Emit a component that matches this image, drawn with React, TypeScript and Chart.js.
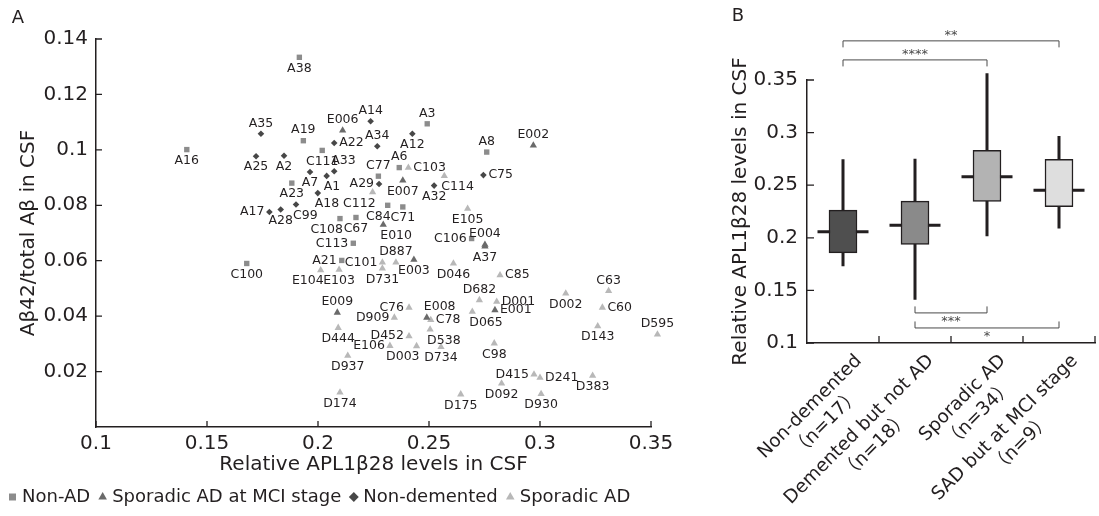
import { useEffect, useRef } from 'react';
import { Chart, registerables } from 'chart.js';
Chart.register(...registerables);

const FONT = '"DejaVu Sans", "Noto Sans CJK JP", sans-serif';
const INK = '#231f20';

// ---------- Panel A data ----------
const nonADNames = ['A38', 'A16', 'A19', 'C111', 'A23', 'A3', 'A8', 'A6', 'C77', 'C84', 'C71', 'C108', 'C67', 'C113', 'C106', 'A21', 'C100'];
const nonADX = [0.1916, 0.1409, 0.1934, 0.2019, 0.1882, 0.2492, 0.2760, 0.2366, 0.2272, 0.2314, 0.2382, 0.2099, 0.2171, 0.2159, 0.2692, 0.2107, 0.1679];
const nonADY = [0.1334, 0.1001, 0.1033, 0.0998, 0.0880, 0.1094, 0.0992, 0.0936, 0.0905, 0.0800, 0.0794, 0.0752, 0.0756, 0.0663, 0.0680, 0.0601, 0.0590];

const mciNames = ['E006', 'E002', 'E007', 'E010', 'E004', 'A37', 'E003', 'E001', 'E008', 'E009'];
const mciX = [0.2111, 0.2970, 0.2382, 0.2294, 0.2752, 0.2752, 0.2432, 0.2797, 0.2490, 0.2087];
const mciY = [0.1070, 0.1016, 0.0890, 0.0730, 0.0658, 0.0652, 0.0604, 0.0422, 0.0395, 0.0413];

const nonDemNames = ['A35', 'A14', 'A22', 'A34', 'A12', 'A25', 'A2', 'A7', 'A1', 'A33', 'A29', 'A18', 'A32', 'C75', 'A17', 'A28', 'C99'];
const nonDemX = [0.1743, 0.2237, 0.2073, 0.2267, 0.2425, 0.1721, 0.1847, 0.1964, 0.2039, 0.2073, 0.2275, 0.1999, 0.2523, 0.2745, 0.1781, 0.1832, 0.1901];
const nonDemY = [0.1058, 0.1103, 0.1025, 0.1013, 0.1058, 0.0977, 0.0979, 0.0920, 0.0906, 0.0923, 0.0877, 0.0844, 0.0871, 0.0909, 0.0776, 0.0785, 0.0803];

const sadNames = ['C103', 'C114', 'C112', 'E105', 'C101', 'D887', 'D731', 'D046', 'C85', 'D682', 'D001', 'D065', 'D002', 'C63', 'C60', 'D143', 'D595', 'C76', 'D909', 'C78', 'D538', 'D452', 'E106', 'D003', 'D734', 'C98', 'D415', 'D241', 'D383', 'D092', 'D175', 'D930', 'D174', 'D937', 'D444', 'E104', 'E103'];
const sadX = [0.2407, 0.2569, 0.2246, 0.2674, 0.2290, 0.2351, 0.2290, 0.2610, 0.2820, 0.2727, 0.2805, 0.2695, 0.3116, 0.3309, 0.3281, 0.3260, 0.3529, 0.2410, 0.2344, 0.2508, 0.2505, 0.2410, 0.2324, 0.2444, 0.2554, 0.2794, 0.2973, 0.3000, 0.3237, 0.2827, 0.2643, 0.3005, 0.2099, 0.2134, 0.2091, 0.2012, 0.2095];
const sadY = [0.0936, 0.0906, 0.0847, 0.0788, 0.0594, 0.0594, 0.0572, 0.0590, 0.0548, 0.0458, 0.0452, 0.0416, 0.0482, 0.0491, 0.0431, 0.0364, 0.0334, 0.0431, 0.0395, 0.0386, 0.0352, 0.0328, 0.0293, 0.0292, 0.0289, 0.0302, 0.0190, 0.0178, 0.0185, 0.0157, 0.0118, 0.0119, 0.0125, 0.0257, 0.0358, 0.0566, 0.0568];

const aXTicks = [0.1, 0.15, 0.2, 0.25, 0.3, 0.35];
const aYTicks = [0.02, 0.04, 0.06, 0.08, 0.1, 0.12, 0.14];

// label placement around each marker (style only)
const labelSide: Record<string, string> = {
  A38: 'b', A16: 'b', A19: 'a', C111: 'b', A23: 'b', A3: 'a', A8: 'a', A6: 'a', C77: 'a', C84: 'bl', C71: 'b', C108: 'bl', C67: 'b', C113: 'l', C106: 'l', A21: 'l', C100: 'b',
  E006: 'a', E002: 'a', E007: 'b', E010: 'br', E004: 'a', A37: 'b', E003: 'b', E001: 'r', E008: 'ar', E009: 'a',
  A35: 'a', A14: 'a', A22: 'r', A34: 'a', A12: 'b', A25: 'b', A2: 'b', A7: 'b', A1: 'br', A33: 'ar', A29: 'l', A18: 'br', A32: 'b', C75: 'r', A17: 'l', A28: 'b', C99: 'br',
  C103: 'r', C114: 'br', C112: 'bl', E105: 'b', C101: 'l', D887: 'a', D731: 'b', D046: 'b', C85: 'r', D682: 'a', D001: 'r', D065: 'br', D002: 'b', C63: 'a', C60: 'r', D143: 'b', D595: 'a', C76: 'l', D909: 'l', C78: 'r', D538: 'br', D452: 'l', E106: 'l', D003: 'bl', D734: 'b', C98: 'b', D415: 'l', D241: 'r', D383: 'b', D092: 'b', D175: 'b', D930: 'b', D174: 'b', D937: 'b', D444: 'b', E104: 'bl', E103: 'b',
};

// ---------- Panel B data ----------
const groupNames = ['Non-demented', 'Demented but not AD', 'Sporadic AD', 'SAD but at MCI stage'];
const groupN = ['（n=17）', '（n=18）', '（n=34）', '（n=9）'];
const boxMin = [0.1730, 0.1412, 0.2015, 0.2089];
const boxQ1 = [0.1857, 0.1936, 0.2346, 0.2295];
const boxMedian = [0.2057, 0.2120, 0.2581, 0.2453];
const boxQ3 = [0.2263, 0.2349, 0.2831, 0.2746];
const boxMax = [0.2746, 0.2752, 0.3565, 0.2968];
const bYTicks = [0.1, 0.15, 0.2, 0.25, 0.3, 0.35];
const sigFrom = [0, 0, 1, 1];
const sigTo = [3, 2, 2, 3];
const sigLevel = [0.3872, 0.3691, 0.1286, 0.1143];
const sigText = ['**', '****', '***', '*'];

const fmt = (v: number) => String(+Number(v).toFixed(2));

export default function App() {
  const refA = useRef<HTMLCanvasElement>(null);
  const refB = useRef<HTMLCanvasElement>(null);

  useEffect(() => {
    const groups = [
      { label: 'Non-AD', names: nonADNames, xs: nonADX, ys: nonADY, style: 'rect', color: '#8c8c8c', r: 3.8 },
      { label: 'Sporadic AD at MCI stage', names: mciNames, xs: mciX, ys: mciY, style: 'triangle', color: '#6a6a6a', r: 4.2 },
      { label: 'Non-demented', names: nonDemNames, xs: nonDemX, ys: nonDemY, style: 'rectRot', color: '#474747', r: 3.3 },
      { label: 'Sporadic AD', names: sadNames, xs: sadX, ys: sadY, style: 'triangle', color: '#b8b8b8', r: 4.2 },
    ];

    const pointLabels = {
      id: 'pointLabels',
      afterDatasetsDraw(chart: any) {
        const ctx = chart.ctx;
        const ca = chart.chartArea;
        const full = { left: 0, top: 0, right: chart.width, bottom: chart.height };
        // points lying just past the axis end are still drawn (as in the original)
        groups.forEach((_, di) => {
          chart.getDatasetMeta(di).data.forEach((el: any) => {
            if (el.x > ca.right || el.x < ca.left || el.y < ca.top || el.y > ca.bottom) el.draw(ctx, full);
          });
        });
        ctx.save();
        ctx.font = `12.5px ${FONT}`;
        ctx.fillStyle = INK;
        ctx.textBaseline = 'middle';
        groups.forEach((g, di) => {
          const meta = chart.getDatasetMeta(di);
          meta.data.forEach((el: any, i: number) => {
            const name = g.names[i];
            const side = labelSide[name] || 'b';
            let tx = el.x, ty = el.y, align: CanvasTextAlign = 'center';
            if (side === 'a') { ty -= 10.5; }
            else if (side === 'b') { ty += 11; }
            else if (side === 'l') { tx -= 5; align = 'right'; }
            else if (side === 'r') { tx += 5; align = 'left'; }
            else if (side === 'ar') { tx -= 3; ty -= 10.5; align = 'left'; }
            else if (side === 'al') { tx += 3; ty -= 10.5; align = 'right'; }
            else if (side === 'br') { tx -= 3; ty += 11; align = 'left'; }
            else if (side === 'bl') { tx += 3; ty += 11; align = 'right'; }
            ctx.textAlign = align;
            ctx.fillText(name, tx, ty);
          });
        });
        ctx.restore();
      },
    };

    const innerTicksA = {
      id: 'innerTicksA',
      afterDraw(chart: any) {
        const { ctx, chartArea } = chart;
        const xs = chart.scales.x, ys = chart.scales.y;
        ctx.save();
        ctx.strokeStyle = INK;
        ctx.lineWidth = 1.3;
        ctx.beginPath();
        aXTicks.forEach((v) => {
          const px = xs.getPixelForValue(v);
          ctx.moveTo(px, chartArea.bottom);
          ctx.lineTo(px, chartArea.bottom - 6);
        });
        aYTicks.forEach((v) => {
          const py = ys.getPixelForValue(v);
          ctx.moveTo(chartArea.left, py);
          ctx.lineTo(chartArea.left + 6, py);
        });
        ctx.stroke();
        ctx.fillStyle = INK;
        ctx.font = `18px ${FONT}`;
        ctx.textAlign = 'center';
        ctx.textBaseline = 'middle';
        ctx.fillText('A', 18, 18);
        ctx.restore();
      },
    };

    const chartA = new Chart(refA.current as HTMLCanvasElement, {
      type: 'scatter',
      data: {
        datasets: groups.map((g) => ({
          label: g.label,
          data: g.xs.map((x, i) => ({ x, y: g.ys[i] })),
          pointStyle: g.style,
          pointRadius: g.r,
          pointHoverRadius: g.r,
          backgroundColor: g.color,
          borderColor: g.color,
          borderWidth: 0,
          clip: false,
        })),
      },
      options: {
        responsive: false,
        animation: false,
        events: [],
        layout: { padding: { left: 0, top: 39, right: 49, bottom: 0 } },
        plugins: {
          tooltip: { enabled: false },
          legend: {
            display: true,
            position: 'bottom',
            align: 'start',
            labels: {
              usePointStyle: true,
              boxWidth: 1,
              boxHeight: 7,
              padding: 12,
              color: INK,
              font: { family: FONT, size: 18 },
            },
          },
        },
        scales: {
          x: {
            type: 'linear',
            min: 0.1,
            max: 0.35,
            afterFit: (s: any) => { s.height = 49; },
            afterBuildTicks: (s: any) => { s.ticks = aXTicks.map((v) => ({ value: v })); },
            grid: { display: true, drawOnChartArea: false, drawTicks: false },
            border: { display: true, color: INK, width: 1.5 },
            ticks: { autoSkip: false, maxRotation: 0, padding: 5, color: INK, font: { family: FONT, size: 20 }, callback: (v: any) => fmt(v) },
            title: { display: true, text: 'Relative APL1β28 levels in CSF', color: INK, font: { family: FONT, size: 20 }, padding: { top: 0, bottom: -1 } },
          },
          y: {
            type: 'linear',
            min: 0,
            max: 0.14,
            afterFit: (s: any) => { s.width = 96; },
            afterBuildTicks: (s: any) => { s.ticks = aYTicks.map((v) => ({ value: v })); },
            grid: { display: true, drawOnChartArea: false, drawTicks: false },
            border: { display: true, color: INK, width: 1.5 },
            ticks: { autoSkip: false, padding: 8, color: INK, font: { family: FONT, size: 20 }, callback: (v: any) => fmt(v) },
            title: { display: true, text: 'Aβ42/total Aβ in CSF', color: INK, font: { family: FONT, size: 20 }, padding: { top: 17, bottom: 0 } },
          },
        },
      },
      plugins: [pointLabels, innerTicksA],
    } as any);

    const boxExtras = {
      id: 'boxExtras',
      beforeDatasetsDraw(chart: any) {
        // whiskers and median bars sit behind the boxes
        const { ctx } = chart;
        const xs = chart.scales.x, ys = chart.scales.y;
        ctx.save();
        ctx.strokeStyle = INK;
        ctx.lineWidth = 3;
        ctx.beginPath();
        groupNames.forEach((_, i) => {
          const px = xs.getPixelForValue(i);
          ctx.moveTo(px, ys.getPixelForValue(boxMin[i]));
          ctx.lineTo(px, ys.getPixelForValue(boxMax[i]));
          const py = ys.getPixelForValue(boxMedian[i]);
          ctx.moveTo(px - 25.5, py);
          ctx.lineTo(px + 25.5, py);
        });
        ctx.stroke();
        ctx.restore();
      },
      afterDraw(chart: any) {
        const { ctx, chartArea } = chart;
        const xs = chart.scales.x, ys = chart.scales.y;
        const half = (xs.getPixelForValue(1) - xs.getPixelForValue(0)) / 2;
        ctx.save();
        // inner tick marks
        ctx.strokeStyle = INK;
        ctx.lineWidth = 1.3;
        ctx.beginPath();
        groupNames.forEach((_, i) => {
          const bx = xs.getPixelForValue(i) + half;
          ctx.moveTo(bx, chartArea.bottom);
          ctx.lineTo(bx, chartArea.bottom - 7);
        });
        bYTicks.forEach((v) => {
          const py = ys.getPixelForValue(v);
          ctx.moveTo(chartArea.left, py);
          ctx.lineTo(chartArea.left + 7, py);
        });
        ctx.stroke();
        // significance brackets
        ctx.strokeStyle = '#4a4a4a';
        ctx.fillStyle = '#4a4a4a';
        ctx.lineWidth = 1;
        ctx.font = `13px ${FONT}`;
        ctx.textAlign = 'center';
        ctx.textBaseline = 'middle';
        sigFrom.forEach((f, k) => {
          const x1 = xs.getPixelForValue(f);
          const x2 = xs.getPixelForValue(sigTo[k]);
          const py = ys.getPixelForValue(sigLevel[k]);
          const up = sigLevel[k] > 0.3;
          const leg = up ? 6.5 : -6.5;
          ctx.beginPath();
          ctx.moveTo(x1, py + leg);
          ctx.lineTo(x1, py);
          ctx.lineTo(x2, py);
          ctx.lineTo(x2, py + leg);
          ctx.stroke();
          ctx.fillText(sigText[k], (x1 + x2) / 2, up ? py - 5 : py + 9);
        });
        // category labels, rotated
        ctx.fillStyle = INK;
        ctx.font = `18.5px ${FONT}`;
        groupNames.forEach((name, i) => {
          const cx = xs.getPixelForValue(i);
          ctx.save();
          ctx.translate(cx + 16, chartArea.bottom + 15);
          ctx.rotate(-Math.PI / 4);
          ctx.textBaseline = 'middle';
          ctx.textAlign = 'right';
          ctx.fillText(name, 0, 0);
          const w = ctx.measureText(name).width;
          ctx.textAlign = 'center';
          ctx.fillText(groupN[i], -w / 2, 23);
          ctx.restore();
        });
        ctx.font = `18px ${FONT}`;
        ctx.textAlign = 'center';
        ctx.textBaseline = 'middle';
        ctx.fillText('B', 38, 16);
        ctx.restore();
      },
    };

    const chartB = new Chart(refB.current as HTMLCanvasElement, {
      type: 'bar',
      data: {
        labels: groupNames,
        datasets: [{
          label: 'APL1β28',
          data: groupNames.map((_, i) => [boxQ1[i], boxQ3[i]]),
          backgroundColor: ['#4f4f4f', '#8a8a8a', '#b3b3b3', '#dedede'],
          borderColor: INK,
          borderWidth: 1.5,
          borderSkipped: false,
          barThickness: 28,
        }],
      },
      options: {
        responsive: false,
        animation: false,
        events: [],
        layout: { padding: { left: 0, top: 80, right: 4, bottom: 0 } },
        plugins: { legend: { display: false }, tooltip: { enabled: false } },
        scales: {
          x: {
            type: 'category',
            offset: true,
            afterFit: (s: any) => { s.height = 173; },
            grid: { display: true, offset: true, drawOnChartArea: false, drawTicks: false },
            border: { display: true, color: INK, width: 1.5 },
            ticks: { display: false },
          },
          y: {
            type: 'linear',
            min: 0.1,
            max: 0.35,
            afterFit: (s: any) => { s.width = 107; },
            afterBuildTicks: (s: any) => { s.ticks = bYTicks.map((v) => ({ value: v })); },
            grid: { display: true, drawOnChartArea: false, drawTicks: false },
            border: { display: true, color: INK, width: 1.5 },
            ticks: { autoSkip: false, padding: 9, color: INK, font: { family: FONT, size: 20 }, callback: (v: any) => fmt(v) },
            title: { display: true, text: 'Relative APL1β28 levels in CSF', color: INK, font: { family: FONT, size: 20 }, padding: { top: 29, bottom: 0 } },
          },
        },
      },
      plugins: [boxExtras],
    } as any);

    return () => { chartA.destroy(); chartB.destroy(); };
  }, []);

  return (
    <div style={{ position: 'fixed', left: 0, top: 0, width: 1099, height: 516, background: '#ffffff' }}>
      <canvas ref={refA} width={700} height={516} style={{ position: 'absolute', left: 0, top: 0, width: 700, height: 516 }} />
      <canvas ref={refB} width={399} height={516} style={{ position: 'absolute', left: 700, top: 0, width: 399, height: 516 }} />
    </div>
  );
}
